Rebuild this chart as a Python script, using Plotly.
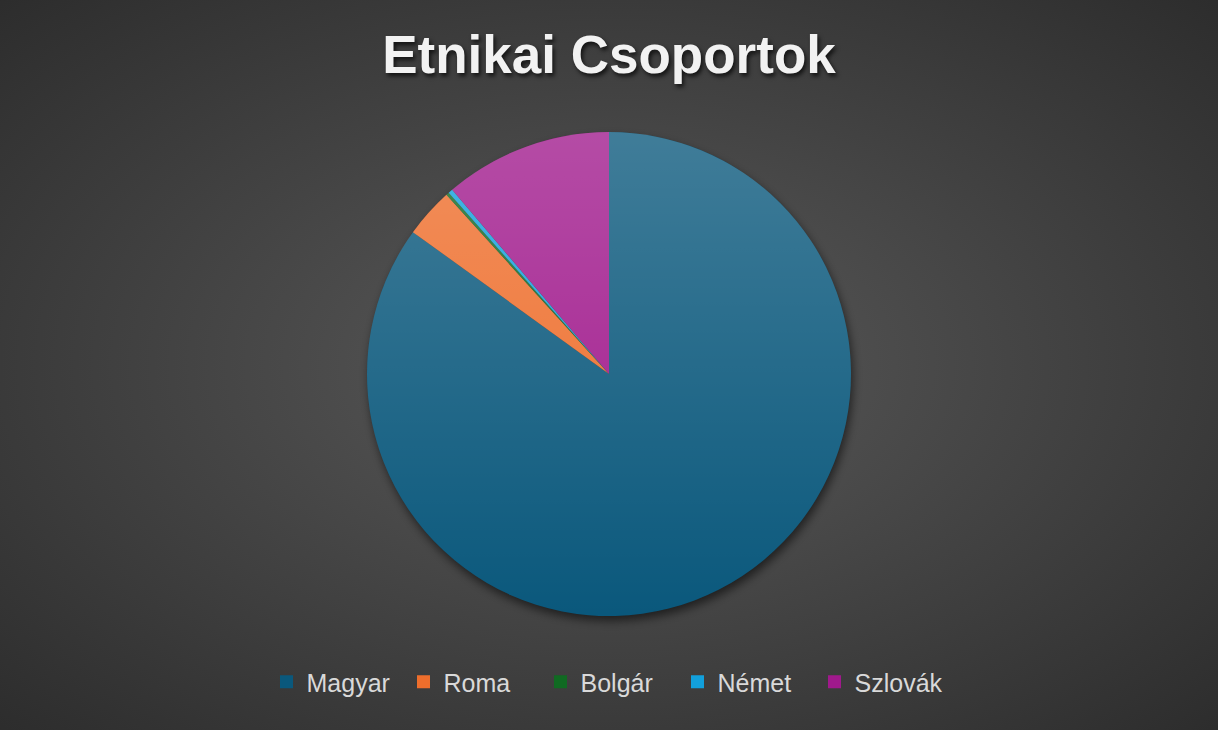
import base64
import plotly.graph_objects as go

# ---- data ----
categories = ["Magyar", "Roma", "Bolgár", "Német", "Szlovák"]
values = [84.8, 3.3, 0.2, 0.3, 11.2]
colors = ["#0a587c", "#ee6e2c", "#106a22", "#12a0dc", "#a0198c"]
title_text = "Etnikai Csoportok"

W, H = 1218, 730
CX, CY, R = 609, 374, 242

def svg_uri(svg):
    return "data:image/svg+xml;base64," + base64.b64encode(svg.encode("utf-8")).decode("ascii")

bg_svg = f"""<svg xmlns='http://www.w3.org/2000/svg' width='{W}' height='{H}' viewBox='0 0 {W} {H}' preserveAspectRatio='none'>
<defs>
<radialGradient id='g' cx='50%' cy='50%' r='75%'>
<stop offset='0%' stop-color='#5a5a5a'/>
<stop offset='100%' stop-color='#2a2a2a'/>
</radialGradient>
<filter id='b' x='-20%' y='-20%' width='140%' height='140%'><feGaussianBlur stdDeviation='5'/></filter>
</defs>
<rect x='0' y='0' width='{W}' height='{H}' fill='url(#g)'/>
<circle cx='{CX+2}' cy='{CY+5}' r='{R}' fill='#000' fill-opacity='0.55' filter='url(#b)'/>
</svg>"""

gloss_svg = f"""<svg xmlns='http://www.w3.org/2000/svg' width='{W}' height='{H}' viewBox='0 0 {W} {H}' preserveAspectRatio='none'>
<defs>
<linearGradient id='l' x1='0' y1='0' x2='0' y2='1'>
<stop offset='0%' stop-color='#fff' stop-opacity='0.22'/>
<stop offset='100%' stop-color='#fff' stop-opacity='0'/>
</linearGradient>
</defs>
<circle cx='{CX}' cy='{CY}' r='{R}' fill='url(#l)'/>
</svg>"""

fig = go.Figure(go.Pie(
    labels=categories,
    values=values,
    sort=False,
    direction="clockwise",
    rotation=0,
    textinfo="none",
    marker=dict(colors=colors, line=dict(width=0)),
    domain=dict(x=[(CX - R) / W, (CX + R) / W], y=[(H - CY - R) / H, (H - CY + R) / H]),
    hoverinfo="label+percent",
    showlegend=False,
))

# legend entries with larger square symbols
for name, col in zip(categories, colors):
    fig.add_trace(go.Scatter(
        x=[None], y=[None], mode="markers", name=name,
        marker=dict(symbol="square", size=13, color=col),
        hoverinfo="skip",
    ))

fig.update_layout(
    width=W, height=H,
    margin=dict(l=0, r=0, t=0, b=0),
    paper_bgcolor="#3c3c3c",
    plot_bgcolor="rgba(0,0,0,0)",
    xaxis=dict(visible=False),
    yaxis=dict(visible=False),
    title=dict(
        text=f"<b>{title_text}</b>",
        x=0.5, xanchor="center", xref="paper",
        y=1 - 54.5 / H, yanchor="middle", yref="paper",
        font=dict(family="Liberation Sans, Arial, sans-serif", size=53, color="#f2f2f2",
                  shadow="2px 3px 4px rgba(0,0,0,0.7)"),
    ),
    legend=dict(
        orientation="h",
        x=0.5, xanchor="center",
        y=1 - 682 / H, yanchor="middle",
        font=dict(family="Liberation Sans, Arial, sans-serif", size=25, color="#d9d9d9"),
        bgcolor="rgba(0,0,0,0)",
        itemsizing="trace",
        entrywidth=92,
    ),
    images=[
        dict(source=svg_uri(bg_svg), xref="paper", yref="paper", x=0, y=1, sizex=1, sizey=1,
             xanchor="left", yanchor="top", sizing="stretch", layer="below"),
        dict(source=svg_uri(gloss_svg), xref="paper", yref="paper", x=0, y=1, sizex=1, sizey=1,
             xanchor="left", yanchor="top", sizing="stretch", layer="above"),
    ],
)

fig.write_html("out.html", config={"displayModeBar": False},
               post_script="document.body.style.margin='0';document.body.style.overflow='hidden';")
